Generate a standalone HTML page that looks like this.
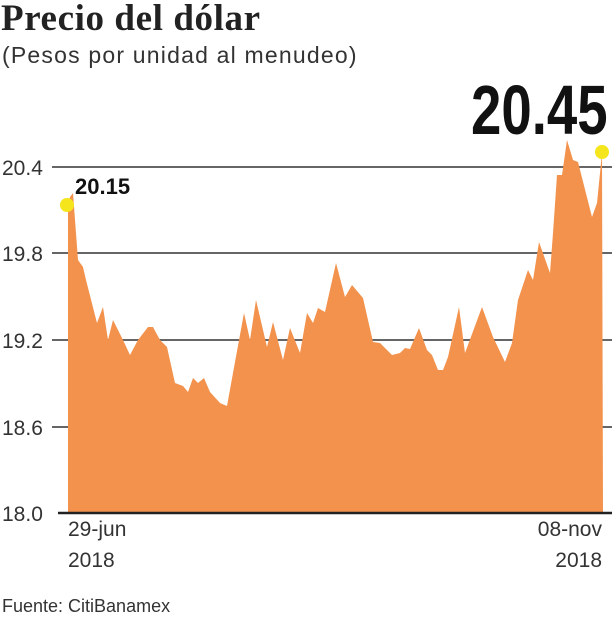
<!DOCTYPE html>
<html><head><meta charset="utf-8"><style>
body{margin:0;background:#fff;width:612px;height:620px;overflow:hidden;position:relative;font-family:"Liberation Sans",sans-serif;color:#222}
.t{position:absolute;white-space:nowrap}
</style></head><body>
<div class="t" style="left:1px;top:-3px;font-family:'Liberation Serif',serif;font-weight:bold;font-size:37px;letter-spacing:0.6px;color:#222">Precio del dólar</div>
<div class="t" style="left:2px;top:42px;font-size:23px;letter-spacing:1.2px;color:#333">(Pesos por unidad al menudeo)</div>
<svg width="612" height="620" style="position:absolute;left:0;top:0">
<g stroke="#666" stroke-width="2">
<line x1="52" y1="167" x2="612" y2="167"/><line x1="52" y1="253" x2="612" y2="253"/>
<line x1="52" y1="340" x2="612" y2="340"/><line x1="52" y1="427" x2="612" y2="427"/>
</g>
<polygon fill="#f2924c" points="68,513 68,205 70,197 73,193 78,260 83,267 86,280 97,323 103,307 108,340 113,320 123,340 130,355 138,340 148,327 153,327 160,340 167,347 175,383 183,386 188,392 193,378 198,383 204,378 210,392 220,403 227,406 233,373 244,313 250,340 256,300 267,347 273,322 283,360 290,328 300,353 307,313 313,323 318,308 325,312 336,263 345,297 352,285 363,298 373,342 380,343 392,355 400,353 405,348 410,349 419,328 427,350 432,355 438,370 443,370 448,357 459,307 465,353 482,307 493,337 505,362 512,343 518,300 528,270 533,280 539,242 550,273 553,233 557,175 562,175 567,140 573,160 578,162 592,217 597,203 602,153 603,513"/>
<line x1="58" y1="513" x2="612" y2="513" stroke="#222" stroke-width="2.5"/>
<circle cx="67" cy="205" r="7" fill="#f5e51c"/>
<circle cx="602" cy="152" r="7" fill="#f5e51c"/>
<g font-size="21" fill="#333" font-family="Liberation Sans,sans-serif">
<text x="2" y="175">20.4</text><text x="2" y="261">19.8</text><text x="2" y="348">19.2</text>
<text x="2" y="435">18.6</text><text x="2" y="521">18.0</text>
<text x="68" y="536">29-jun</text><text x="68" y="567">2018</text>
<text x="602" y="536" text-anchor="end">08-nov</text><text x="602" y="567" text-anchor="end">2018</text>
<text x="2" y="612" font-size="18">Fuente: CitiBanamex</text>
</g>
<text x="75" y="194" font-size="22" font-weight="bold" fill="#111">20.15</text>
<text x="0" y="0" font-size="70" font-weight="bold" fill="#111" transform="translate(471,134) scale(0.78,1)">20.45</text>
</svg>
</body></html>
